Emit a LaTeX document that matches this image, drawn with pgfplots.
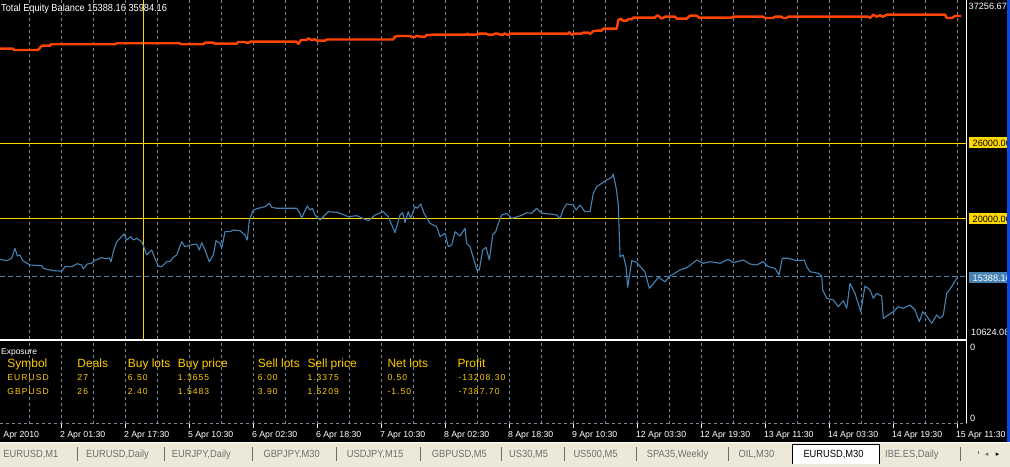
\documentclass[border=0pt]{standalone}
\usepackage{pgfplots}
\pgfplotsset{compat=1.18}
\usepackage{fontspec}
\setmainfont{Liberation Sans}
\newfontfamily\tah[FakeStretch=0.9]{Liberation Sans}
\newfontfamily\rowf[LetterSpace=12]{Liberation Sans}
\newfontfamily\dejavu{DejaVu Sans}
\definecolor{bal}{RGB}{255,69,0}
\definecolor{eq}{RGB}{70,130,180}
\definecolor{gld}{RGB}{255,215,0}
\definecolor{grd}{RGB}{119,136,153}
\definecolor{tabbg}{RGB}{236,233,216}
\definecolor{tabtx}{RGB}{110,110,110}
\definecolor{xpblue}{RGB}{10,70,230}
\definecolor{tbl}{RGB}{255,204,0}
\pgfplotsset{mt/.style={scale only axis, width=966.7bp, xmin=0, xmax=966.7,
  axis line style={draw=none}, ytick=\empty,
  grid style={grd, line width=0.9bp, dash pattern=on 3bp off 3bp},
  minor grid style={grd, line width=0.9bp, dash pattern=on 3bp off 3bp}}}
\begin{document}
\begin{tikzpicture}
\path[use as bounding box] (0bp,0bp) rectangle (1010bp,467bp);
\clip (0bp,0bp) rectangle (1010bp,467bp);
\fill[black] (0bp,0bp) rectangle (1010bp,467bp);
% main window
\begin{axis}[mt, at={(0bp,128bp)}, anchor=south west, height=339bp,
  ymin=10400, ymax=37520,
  xtick={29.3,61.3,...,960}, xticklabel=\empty, major tick length=0pt, xmajorgrids]
\addplot[bal, line width=2.4bp, line join=round] coordinates {
(0,33624) (13,33624) (14,33520) (38,33520) (41.7,33840) (42,33864) (50,33864) (51,33976) (115,33976) (117,34056) (180,34056) (181,33976) (203,33976) (205,34104) (213,34104) (215,34024) (236.7,34024) (238,34160) (245,34160) (246.7,34104) (249,34104) (250,34184) (296.7,34184) (298.3,34000) (301,34320) (306.7,34320) (308,34456) (311.7,34320) (315,34376) (316.7,34264) (325,34264) (326.7,34360) (393,34360) (395,34584) (398,34640) (410,34640) (411.7,34560) (415,34560) (416.7,34664) (420,34584) (425,34584) (426.7,34744) (430,34696) (431.7,34744) (466.7,34744) (467.5,34824) (468.5,34744) (476.7,34744) (478,34824) (486.7,34824) (488,34744) (493,34744) (495,34824) (498,34824) (500,34744) (503,34744) (505,34856) (507,34744) (509,34744) (510,34824) (568,34824) (569.3,34936) (571.7,34744) (575,34824) (581.7,34824) (583,34904) (588.3,34904) (590,34800) (593,35016) (596.7,35064) (601.7,35064) (603,35224) (616.7,35224) (618.3,35920) (620.7,36024) (623,35864) (626.7,35864) (628,35976) (631.7,35976) (633,36104) (655,36104) (656.7,36264) (658.3,36264) (661.7,36024) (665,36184) (675,36184) (676.7,36024) (686.7,36024) (690,36264) (696.7,36264) (699,36104) (731.7,36104) (733,36184) (763.3,36184) (765,36080) (773,36080) (775,36184) (781.7,36184) (783,36080) (786.7,36080) (788,36184) (868.3,36184) (870,36080) (873.3,36344) (876.7,36184) (880,36296) (882.7,36184) (886.7,36344) (945,36344) (946.7,36080) (951.7,36080) (955,36240) (961,36240)};
\addplot[gld, line width=1bp] coordinates {(0,26000) (966.7,26000)};
\addplot[gld, line width=1bp] coordinates {(0,20000) (966.7,20000)};
\addplot[gld, line width=1bp] coordinates {(143.3,10400) (143.3,37520)};
\addplot[eq, line width=1bp, dash pattern=on 5bp off 3bp] coordinates {(0,15388.16) (966.7,15388.16)};
\addplot[eq, line width=1.1bp, line join=round] coordinates {
(0,16776) (6.7,16664) (11.7,16856) (15,17656) (17.3,17040) (20,17120) (22.7,16664) (30,16320) (41.7,16264) (43.3,16056) (50,15920) (55,15864) (61.7,15816) (65,16184) (71.7,16184) (77.3,16424) (81.7,16320) (83.3,16000) (87.3,16400) (91.7,16456) (95,16720) (98.3,16776) (101.7,16936) (105,16824) (109.3,16880) (111,16584) (113.3,17384) (116.7,18184) (120,18456) (124,18800) (126.7,18320) (131,18584) (133.3,18320) (136.7,18456) (141.7,18184) (144,17736) (146.7,17120) (151.7,17520) (154,17040) (158.3,16240) (161.7,16184) (166.7,16584) (170,16584) (173.3,16936) (176.7,17120) (181.7,18184) (185,17784) (190,17920) (196.7,18000) (199.3,17520) (201.7,18104) (205,17520) (209.3,16584) (213.3,17120) (216,18264) (220,18056) (221.7,17656) (225,18984) (230,18984) (233.3,19120) (240,19064) (245,18720) (247.3,18320) (249.3,19920) (253.3,20720) (258.3,20856) (265,20984) (269.3,21256) (271.7,20936) (276.7,20856) (296.7,20856) (300,20456) (301.7,20056) (304,20504) (307.3,21040) (310,20720) (312.3,20856) (315,20320) (320,19920) (323.3,20184) (328.3,20584) (336.7,20536) (340,20456) (348.3,20184) (356.7,20264) (368.3,19864) (375,20320) (383.3,20584) (388.3,20184) (395,18904) (400,20320) (402.7,20504) (405,19704) (408.3,20584) (410.7,20056) (415,20984) (417.3,20856) (420.7,21200) (424,20456) (430,19656) (436.7,19384) (440,18584) (445,18856) (448.3,17784) (451.7,17920) (455,18984) (460,18640) (465,19256) (466.7,18056) (470,17784) (475,16456) (476.7,15976) (479.3,15920) (482.7,17520) (486,17736) (489.3,16720) (492.7,18720) (495.7,18984) (498.3,19656) (501.7,20320) (506.7,20456) (511.7,20056) (520,20240) (526.7,20504) (531.7,20456) (536.7,20856) (541.7,20456) (550,20400) (556.7,20320) (560,20056) (563.3,20776) (566.7,21200) (573.3,21120) (576,20720) (580,21120) (585,20584) (590,20584) (593.3,22056) (596.7,22584) (601.7,22856) (606.7,23120) (611.7,23336) (613.3,23600) (616.5,22320) (618.3,21120) (619.3,18720) (620,16984) (623.3,17120) (626,16184) (627.7,14536) (629.3,15384) (631.7,16664) (636.7,16520) (643.3,15920) (645,15760) (649.3,14456) (653.3,14800) (658.3,15336) (665,14984) (670,15440) (680,15920) (685,16056) (688.3,16184) (696.7,16720) (703.3,16456) (710,16584) (720,16456) (728.3,16776) (733.3,16504) (743.3,16720) (750,16400) (756.7,16320) (763.3,16584) (768.3,16184) (775,16056) (779,15520) (782.3,16856) (788.3,16856) (796.7,16664) (804.3,16720) (806.7,16184) (810,15784) (818.3,15656) (821.7,15440) (822.7,14320) (826.7,13656) (833.3,13520) (838.3,12984) (843.3,13464) (846.7,12856) (850,14856) (855,14056) (860.7,12584) (865,14640) (870,14320) (873.3,13656) (876.7,14056) (881.7,13840) (883.3,12056) (888.3,12320) (893.3,12584) (898.3,12984) (903.3,12856) (910,13120) (915,12720) (919.3,11784) (922.7,12584) (926.7,12240) (931.7,11656) (936.7,12320) (940,12056) (943.3,12320) (946.7,14056) (951.7,14584) (956.7,15256) (958,15388.16)};
\end{axis}
% sub window (Exposure)
\begin{axis}[mt, at={(0bp,43bp)}, anchor=south west, height=83bp, ymin=0, ymax=1,
  xtick={61.3,125.3,...,960},
  xticklabels={2 Apr 01:30,2 Apr 17:30,5 Apr 10:30,6 Apr 02:30,6 Apr 18:30,7 Apr 10:30,8 Apr 02:30,8 Apr 18:30,9 Apr 10:30,12 Apr 03:30,12 Apr 19:30,13 Apr 11:30,14 Apr 03:30,14 Apr 19:30,15 Apr 11:30},
  minor xtick={29.3,93.3,...,960},
  xmajorgrids, xminorgrids, xtick pos=bottom, tick align=outside,
  major tick length=3.5bp, minor tick length=0pt,
  tick style={white, line width=1bp},
  xticklabel style={anchor=base west, inner sep=0pt, xshift=-1.5bp, yshift=-10bp, text=white, font=\fontsize{8.8}{10}\selectfont}]
\addplot[draw=none] coordinates {(0,0) (966.7,1)};
\end{axis}
\begin{scope}[x=1bp,y=1bp]
% frames
\draw[white, line width=1bp] (0,127.7) -- (966.7,127.7);
\draw[white, line width=1bp] (0,126) -- (966.7,126);
\draw[white, line width=1bp] (966.7,467) -- (966.7,127.7);
\draw[white, line width=1bp] (966.7,126) -- (966.7,43);
\draw[grd, line width=1bp, dash pattern=on 3bp off 3bp] (0,43) -- (966.7,43);
% title
\node[anchor=base west, inner sep=0pt, text=white, font=\tah\fontsize{10.3}{12}\selectfont] at (1,455.3) {Total Equity Balance 15388.16 35984.16};
% right price labels
\node[anchor=base west, inner sep=0pt, text=white, font=\fontsize{9.2}{11}\selectfont] at (968.5,457) {37256.67};
\fill[gld] (969,318.5) rectangle (1010,329.7);
\node[anchor=base west, inner sep=0pt, text=black, font=\fontsize{9.2}{11}\selectfont] at (972.5,320.3) {26000.00};
\fill[gld] (969,242.5) rectangle (1010,253.7);
\node[anchor=base west, inner sep=0pt, text=black, font=\fontsize{9.2}{11}\selectfont] at (972.5,244.3) {20000.00};
\fill[eq] (969,183.5) rectangle (1010,194.7);
\node[anchor=base west, inner sep=0pt, text=white, font=\fontsize{9.2}{11}\selectfont] at (972.5,185.3) {15388.16};
\node[anchor=base west, inner sep=0pt, text=white, font=\fontsize{9.2}{11}\selectfont] at (971,132) {10624.08};
\node[anchor=base west, inner sep=0pt, text=white, font=\fontsize{9.2}{11}\selectfont] at (970,116.3) {0};
\node[anchor=base west, inner sep=0pt, text=white, font=\fontsize{9.2}{11}\selectfont] at (970,45.3) {0};
% exposure table
\node[anchor=base west, inner sep=0pt, text=white, font=\fontsize{8.5}{10}\selectfont] at (1,113) {Exposure};
\begin{scope}[every node/.style={anchor=base west, inner sep=0pt, text=tbl, font=\fontsize{12}{14}\selectfont}]
\node at (7.3,99.3) {Symbol}; \node at (77.3,99.3) {Deals}; \node at (127.7,99.3) {Buy lots}; \node at (177.7,99.3) {Buy price};
\node at (257.7,99.3) {Sell lots}; \node at (307.3,99.3) {Sell price}; \node at (387.3,99.3) {Net lots}; \node at (457.3,99.3) {Profit};
\end{scope}
\begin{scope}[every node/.style={anchor=base west, inner sep=0pt, text=tbl, font=\rowf\fontsize{8.6}{10}\selectfont}]
\node at (7.3,87) {EURUSD}; \node at (77.3,87) {27}; \node at (127.7,87) {6.50}; \node at (177.7,87) {1.3655};
\node at (257.7,87) {6.00}; \node at (307.3,87) {1.3375}; \node at (387.3,87) {0.50}; \node at (458.3,87) {-13208.30};
\node at (7.3,72.7) {GBPUSD}; \node at (77.3,72.7) {26}; \node at (127.7,72.7) {2.40}; \node at (177.7,72.7) {1.5483};
\node at (257.7,72.7) {3.90}; \node at (307.3,72.7) {1.5209}; \node at (387.3,72.7) {-1.50}; \node at (458.3,72.7) {-7387.70};
\end{scope}
\node[anchor=base west, inner sep=0pt, text=white, font=\fontsize{8.8}{10}\selectfont] at (3.3,29.3) {Apr 2010};
% tabs bar
\fill[tabbg] (0,0) rectangle (1010,24);
\draw[white, line width=1bp] (0,24.5) -- (1010,24.5);
\fill[xpblue] (1007.3,25) rectangle (1010,467);
\filldraw[fill=white, draw=black, line width=1bp] (792.3,3.5) -- (792.3,22) -- (879,22) -- (879,3.5);
\begin{scope}[every node/.style={anchor=base west, inner sep=0pt, text=tabtx, font=\tah\fontsize{10.4}{12}\selectfont}]
\node at (3.3,9.3) {EURUSD,M1}; \node at (86,9.3) {EURUSD,Daily}; \node at (171.7,9.3) {EURJPY,Daily};
\node at (263.3,9.3) {GBPJPY,M30}; \node at (346.7,9.3) {USDJPY,M15}; \node at (431.7,9.3) {GBPUSD,M5};
\node at (509,9.3) {US30,M5}; \node at (573.3,9.3) {US500,M5}; \node at (646.7,9.3) {SPA35,Weekly};
\node at (738.3,9.3) {OIL,M30}; \node[text=black] at (803.3,9.3) {EURUSD,M30}; \node at (885,9.3) {IBE.ES,Daily};
\end{scope}
\foreach \sx in {77,164.3,252.3,336.7,420.7,501.7,564.3,636.7,728.3,960}
  \draw[tabtx, line width=1bp] (\sx,6) -- (\sx,20);
\draw[tabtx, line width=1bp] (978.3,13) -- (978.3,16);
\node[anchor=base, inner sep=0pt, text=tabtx, font=\dejavu\fontsize{7}{8}\selectfont] at (986.7,10.5) {◂};
\node[anchor=base, inner sep=0pt, text=black, font=\dejavu\fontsize{7}{8}\selectfont] at (997.7,10.5) {▸};
\end{scope}
\end{tikzpicture}
\end{document}
